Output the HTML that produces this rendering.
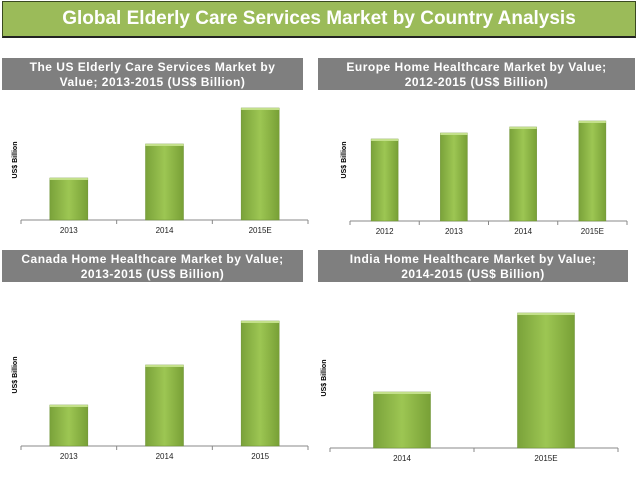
<!DOCTYPE html>
<html><head><meta charset="utf-8"><style>
body{margin:0;width:638px;height:479px;background:#fff;overflow:hidden;font-family:"Liberation Sans",sans-serif;position:relative}
.title{position:absolute;left:2px;top:1px;width:632px;height:34px;background:#9bbb59;border:1px solid #3a4a20;border-bottom:2px solid #222;color:#fff;font-weight:bold;font-size:19px;line-height:34px;text-align:center}
.hdr{position:absolute;background:#7f7f7f;color:#fff;font-weight:bold;font-size:12px;line-height:15px;text-align:center;letter-spacing:.5px;padding-top:2px;box-sizing:border-box}
svg{position:absolute;left:0;top:0}
</style></head><body>
<div class="title">Global Elderly Care Services Market by Country Analysis</div>
<div class="hdr" style="left:2px;top:58px;width:301px;height:32px">The US Elderly Care Services Market by<br>Value; 2013-2015 (US$ Billion)</div>
<div class="hdr" style="left:318px;top:58px;width:317px;height:32px">Europe Home Healthcare Market by Value;<br>2012-2015 (US$ Billion)</div>
<div class="hdr" style="left:2px;top:250px;width:301px;height:32px">Canada Home Healthcare Market by Value;<br>2013-2015 (US$ Billion)</div>
<div class="hdr" style="left:318px;top:250px;width:310px;height:32px">India Home Healthcare Market by Value;<br>2014-2015 (US$ Billion)</div>
<svg id="s" width="638" height="479">
<defs><linearGradient id="g" x1="0" x2="1" y1="0" y2="0"><stop offset="0" stop-color="#7aa23a"/><stop offset=".5" stop-color="#9dc653"/><stop offset="1" stop-color="#78a036"/></linearGradient></defs>
</svg>
<script>
const usCats=["2013","2014","2015E"];
const usVals=[42,76,112];
const euCats=["2012","2013","2014","2015E"];
const euVals=[82,88,94,100];
const caCats=["2013","2014","2015"];
const caVals=[41,81,125];
const inCats=["2014","2015E"];
const inVals=[56,135];
const NS="http://www.w3.org/2000/svg";
const svg=document.getElementById('s');
function mk(t,a){const e=document.createElementNS(NS,t);for(const k in a)e.setAttribute(k,a[k]);svg.appendChild(e);return e;}
function chart(name,cats,vals,x0,x1,base,barW,yl,scale){
  const n=cats.length,step=(x1-x0)/n;
  const ax=mk('line',{x1:x0,x2:x1,y1:base,y2:base,stroke:'#888','stroke-width':1});
  
  
  for(let i=0;i<=n;i++){const t=mk('line',{x1:x0+i*step,x2:x0+i*step,y1:base,y2:base+4,stroke:'#888'});
    
    }
  cats.forEach((c,i)=>{
    const cx=x0+step*(i+.5),h=vals[i]*scale;
    const r=mk('rect',{x:cx-barW/2,y:base-h,width:barW,height:h,fill:'url(#g)',stroke:'#6b8f30','stroke-width':.5});
    
    
    mk('rect',{x:cx-barW/2,y:base-h,width:barW,height:2,fill:'#c3e08a'});
    const t=mk('text',{x:cx,y:base+13,'text-anchor':'middle','font-size':8,fill:'#222'});
    t.textContent=c;
    
    
  });
  const yt=mk('text',{x:0,y:0,'font-size':7,'font-weight':'bold','text-anchor':'middle',transform:`translate(${yl[0]},${yl[1]}) rotate(-90)`});
  yt.textContent="US$ Billion";
  
  
}
chart('us',usCats,usVals,21,308,220,38,[17,160],1);
chart('europe',euCats,euVals,350,627,221,27,[346,160],1);
chart('canada',caCats,caVals,21,308,446,38,[17,375],1);
chart('india',inCats,inVals,330,618,448,57,[326,378],1);
</script>
</body></html>
